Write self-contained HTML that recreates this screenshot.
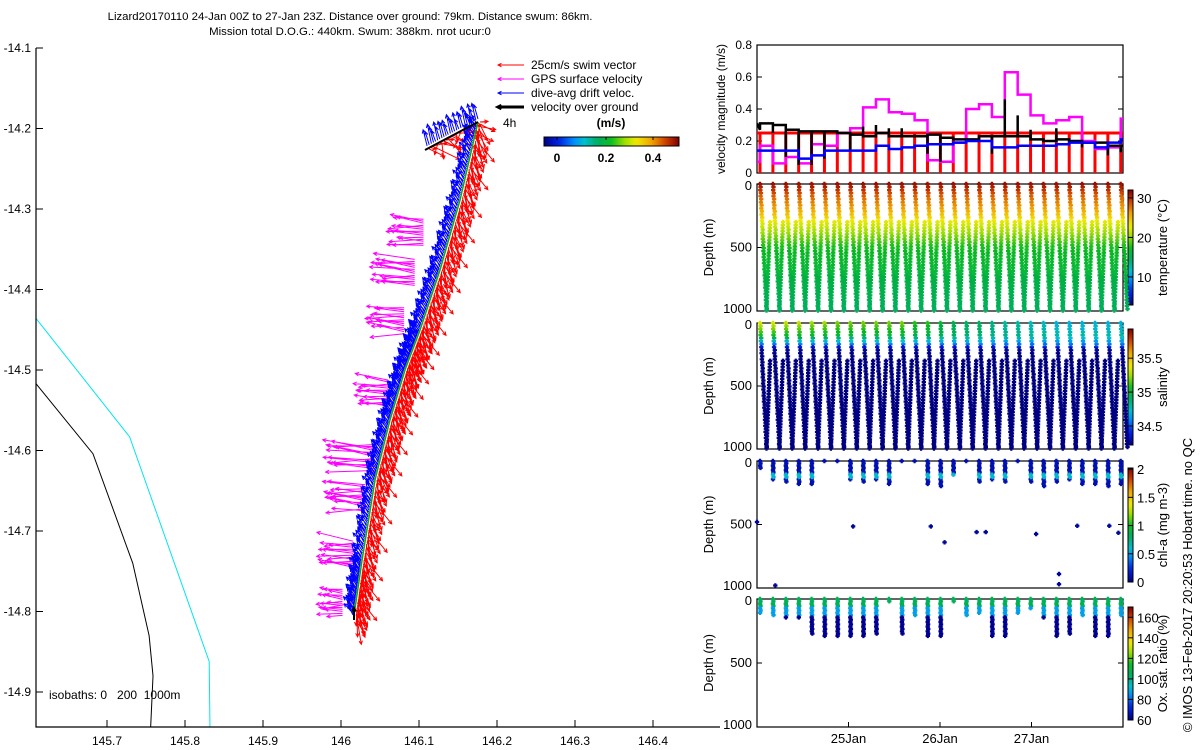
<!DOCTYPE html>
<html><head><meta charset="utf-8"><title>Lizard glider mission chart</title>
<style>
html,body{margin:0;padding:0;background:#fff;}
svg{display:block;font-family:"Liberation Sans",sans-serif;}
text{font-size:12px;fill:#000;}
</style></head>
<body>
<svg id="chart" width="1200" height="750" viewBox="0 0 1200 750" xmlns="http://www.w3.org/2000/svg">
<defs>
<linearGradient id="jetV" x1="0" y1="1" x2="0" y2="0"></linearGradient>
<linearGradient id="jetH" x1="0" y1="0" x2="1" y2="0"></linearGradient>
</defs>
<text x="350" y="20" text-anchor="middle" style="font-size:11.4px">Lizard20170110 24-Jan 00Z to 27-Jan 23Z. Distance over ground: 79km. Distance swum: 86km.</text>
<text x="350" y="35" text-anchor="middle" style="font-size:11.4px">Mission total D.O.G.: 440km. Swum: 388km. nrot ucur:0</text>
<g id="map"></g>
<g id="panels"></g>
<text transform="translate(1192,585) rotate(-90)" text-anchor="middle" style="font-size:13px">© IMOS 13-Feb-2017 20:20:53 Hobart time. no QC</text>
</svg>
<script>
// ---------- data ----------
const mapLonTicks = [145.7,145.8,145.9,146,146.1,146.2,146.3,146.4];
const mapLatTicks = [-14.1,-14.2,-14.3,-14.4,-14.5,-14.6,-14.7,-14.8,-14.9];
const trackLon = [146.0167,146.027,146.0436,146.0628,146.082,146.1013,146.1269,146.1526,146.1756];
const trackLat = [-14.8043,-14.736,-14.6366,-14.5621,-14.5,-14.4503,-14.3758,-14.2888,-14.1919];
const hookLon = [146.1756,146.1077];
const hookLat = [-14.1919,-14.2267];
const iso200Lon = [145.609,145.729,145.831,145.832];
const iso200Lat = [-14.436,-14.583,-14.862,-14.943];
const iso1000Lon = [145.609,145.682,145.733,145.754,145.759,145.756];
const iso1000Lat = [-14.517,-14.604,-14.740,-14.830,-14.880,-14.943];
const gpsClusterLat = [-14.33,-14.38,-14.44,-14.53,-14.61,-14.66,-14.73,-14.79];
const gpsClusterLen = [30,38,32,28,45,36,30,20];

const velTicks = [0,0.2,0.4,0.6,0.8];
const swimSpeed = 0.25;
const dogVel = [0.31,0.30,0.27,0.26,0.26,0.26,0.25,0.24,0.23,0.25,0.23,0.23,0.23,0.24,0.22,0.21,0.21,0.23,0.23,0.23,0.23,0.21,0.20,0.21,0.20,0.19,0.19,0.17,0.17];
const dogSpike = [0.27,0.25,0.10,0.05,0.05,0.09,0.25,0.14,0.29,0.30,0.28,0.28,0.24,0.12,0.07,0.21,0.20,0.20,0.12,0.46,0.36,0.27,0.20,0.28,0.21,0.16,0.18,0.11,0.13];
const driftVel = [0.14,0.14,0.14,0.09,0.11,0.14,0.14,0.14,0.14,0.17,0.15,0.16,0.17,0.18,0.18,0.19,0.20,0.20,0.16,0.16,0.17,0.17,0.17,0.18,0.19,0.19,0.16,0.19,0.21];
const gpsVel = [0.17,0.06,0.10,0.06,0.18,0.17,0.25,0.28,0.41,0.46,0.38,0.37,0.33,0.08,0.07,0.19,0.40,0.43,0.35,0.63,0.49,0.36,0.31,0.33,0.35,0.20,0.15,0.16,0.34];
const dateTicks = [1,2,3];
const dateLabels = ["25Jan","26Jan","27Jan"];
const depthTicks = [0,500,1000];

const tempDepth = [0,100,200,300,400,500,700,1000];
const tempVal = [31,28,26,22.5,20,17.5,16,14.5];
const salDepth = [0,50,100,150,200,250,1000];
const salVal = [35.2,35.1,35.0,34.7,34.3,34.22,34.22];
const salSfcAdj = [0.15,0.15,0.1,0.1,0.05,0.05,0,0,0,0,0,0,-0.1,-0.1,-0.2,-0.25,-0.3,-0.3,-0.35,-0.4,-0.4,-0.45,-0.45,-0.5,-0.5,-0.5,-0.5,-0.5,-0.5];
const chlMaxDepth = [60,160,170,190,180,10,10,160,170,150,190,10,10,190,200,120,10,170,160,170,10,170,200,170,160,190,190,200,190];
const chlIsoT = [0.0,0.2,1.05,1.9,2.05,2.4,2.5,3.05,3.5,3.85,3.95,3.3,3.3];
const chlIsoD = [480,980,515,515,640,560,560,575,510,510,565,890,970];
const oxMaxDepth = [120,130,160,150,280,300,300,300,290,280,20,280,140,300,300,20,140,120,300,300,110,80,150,300,280,130,290,300,130];
const tempRange=[2.9,32], salRange=[34.22,35.93], chlRange=[0,2.02], oxRange=[60,170];

// ---------- helpers ----------
const svg=document.getElementById('chart');
const NS='http://www.w3.org/2000/svg';
function mk(tag,attrs,parent){const e=document.createElementNS(NS,tag);for(const k in attrs)e.setAttribute(k,attrs[k]);(parent||svg).appendChild(e);return e;}
const cmPos=[0,0.1,0.22,0.3,0.4,0.5,0.6,0.68,0.8,0.9,1];
const cmCol=[[0,0,128],[0,32,224],[0,144,255],[0,192,208],[0,176,96],[16,192,32],[160,224,0],[240,240,0],[240,160,0],[208,64,0],[128,0,0]];
function jet(v){v=Math.max(0,Math.min(1,v));let i=1;while(i<cmPos.length-1&&v>cmPos[i])i++;const f=(v-cmPos[i-1])/(cmPos[i]-cmPos[i-1]);const c=cmCol[i-1].map((a,j)=>Math.round(a+(cmCol[i][j]-a)*f));
 // quantize to limit path count
 return `rgb(${c[0]&~7},${c[1]&~7},${c[2]&~7})`;}
['jetV','jetH'].forEach(id=>{const g=document.getElementById(id);for(let i=0;i<=40;i++){mk('stop',{offset:(i/40),'stop-color':jet(i/40)},g);}});

// ---------- map ----------
const map=document.getElementById('map');
const mx=lon=>107+(lon-145.7)/0.1*78;
const my=lat=>48+(-14.1-lat)/0.1*80.5;
function pl(lons,lats,stroke,w,name){const p=mk('polyline',{points:lons.map((l,i)=>mx(l)+','+my(lats[i])).join(' '),fill:'none',stroke:stroke,'stroke-width':w},map);

return p;}
pl(iso200Lon,iso200Lat,'#00e5ee',1,'isobath-200m');
pl(iso1000Lon,iso1000Lat,'#000',1,'isobath-1000m');
const pts=[];
for(let s=0;s<trackLon.length-1;s++){const n=45;for(let j=0;j<n;j++){const f=j/n;pts.push([mx(trackLon[s]+(trackLon[s+1]-trackLon[s])*f),my(trackLat[s]+(trackLat[s+1]-trackLat[s])*f)]);}}
function arrow(g,x,y,dx,dy){const L=Math.hypot(dx,dy)||1,ux=dx/L,uy=dy/L,h=3.5;
return `M${x.toFixed(1)},${y.toFixed(1)}L${(x+dx).toFixed(1)},${(y+dy).toFixed(1)}M${(x+dx-h*ux+h*0.5*uy).toFixed(1)},${(y+dy-h*uy-h*0.5*ux).toFixed(1)}L${(x+dx).toFixed(1)},${(y+dy).toFixed(1)}L${(x+dx-h*ux-h*0.5*uy).toFixed(1)},${(y+dy-h*uy+h*0.5*ux).toFixed(1)}`;}
const jit=[0,9,-6,14,-11,4,18,-3,7,-15,11,-8,2,16,-12,5];
let rd='',bd='',md='';
pts.forEach((p,i)=>{const a=(68+jit[i%16]*1.4)*Math.PI/180,L=22+jit[(i+5)%16]*0.5;rd+=arrow(0,p[0]+2,p[1],Math.cos(a)*L,Math.sin(a)*L);
const b=(235+jit[(i+3)%16]*0.6)*Math.PI/180,bl=12+jit[(i+7)%16]*0.2;bd+=arrow(0,p[0]-1,p[1],Math.cos(b)*bl,Math.sin(b)*bl);});
for(let j=0;j<25;j++){const f=j/25,x=mx(hookLon[0]+(hookLon[1]-hookLon[0])*f),y=my(hookLat[0]+(hookLat[1]-hookLat[0])*f);
bd+=arrow(0,x,y-3,-4,-14-jit[j%16]*0.3);rd+=arrow(0,x+2,y,8+jit[j%16],6+jit[(j+4)%16]*0.6);}
gpsClusterLat.forEach((lat,c)=>{for(let j=0;j<14;j++){const yy=my(lat)+j*2-14;const f=(my(lat)-48)/(615-48);const x=mx(146.1756)-(478-354)*f-14;const L=gpsClusterLen[c]+jit[(j+c)%16]*0.4;const a=(183+jit[(j*3+c)%16]*0.6)*Math.PI/180;md+=arrow(0,x,yy,Math.cos(a)*L,Math.sin(a)*L);}});
md+=arrow(0,352,603,-30,6);
const rP=mk('path',{d:rd,stroke:'#ff0000','stroke-width':1,fill:'none'},map);


const mP=mk('path',{d:md,stroke:'#ff00ff','stroke-width':1,fill:'none'},map);


const bP=mk('path',{d:bd,stroke:'#0000ff','stroke-width':1,fill:'none'},map);


pl(trackLon,trackLat,'#00b000',1.5,'glider-track');
pl(hookLon,hookLat,'#000',2,'velocity-over-ground-line');
const vog=mk('path',{d:arrow(0,mx(trackLon[0]),my(trackLat[0])+5,0,-12),stroke:'#000','stroke-width':2,fill:'none'},map);


const ax=mk('path',{d:'M36,48V727H720',stroke:'#000','stroke-width':1.2,fill:'none'},map);


mapLonTicks.forEach(v=>{const x=mx(v);mk('line',{x1:x,y1:727,x2:x,y2:720,stroke:'#000'},map);const t=mk('text',{x:x,y:745,'text-anchor':'middle'},map);t.textContent=String(v);

});
mapLatTicks.forEach(v=>{const y=my(v);mk('line',{x1:36,y1:y,x2:43,y2:y,stroke:'#000'},map);const t=mk('text',{x:31,y:y+4,'text-anchor':'end'},map);t.textContent=String(v);

});
const iso=mk('text',{x:49,y:699,style:'white-space:pre'},map);iso.textContent='isobaths: 0   200  1000m';


const legItems=[['25cm/s swim vector','#ff0000',1],['GPS surface velocity','#ff00ff',1],['dive-avg drift veloc.','#0000ff',1],['velocity over ground','#000',3]];
legItems.forEach((it,i)=>{const y=65+i*14;const g=mk('g',{},map);


mk('path',{d:arrow(0,524,y,-26,0),stroke:it[1],'stroke-width':it[2],fill:'none'},g);const t=mk('text',{x:531,y:y+4},g);t.textContent=it[0];});
const h4=mk('text',{x:503,y:127},map);h4.textContent='4h';


const cbg=mk('g',{},map);


mk('rect',{x:544,y:137,width:135,height:9,fill:'url(#jetH)',stroke:'#000','stroke-width':1},cbg);
[[0,557],[0.2,606],[0.4,653]].forEach(a=>{mk('line',{x1:a[1],y1:137,x2:a[1],y2:140,stroke:'#000'},cbg);const t=mk('text',{x:a[1],y:162,'text-anchor':'middle','font-weight':'bold'},cbg);t.textContent=String(a[0]);});
const ms=mk('text',{x:611,y:127,'text-anchor':'middle','font-weight':'bold'},cbg);ms.textContent='(m/s)';

// ---------- right panels ----------
const P=document.getElementById('panels');
const X0=757,X1=1123;
const tx=t=>X0+t*91.5;
const nD=29,dT0=0.033,dDT=0.1408;
const dT=k=>dT0+k*dDT;
function panelFrame(y0,y1,name){const g=mk('g',{},P);
mk('rect',{x:X0,y:y0,width:X1-X0,height:y1-y0,fill:'none',stroke:'#000','stroke-width':1.2},g);return g;}
const vy=v=>173-v*160;
const vg=panelFrame(45,173,'velocity-panel');
velTicks.forEach(v=>{mk('line',{x1:X0,y1:vy(v),x2:X0+5,y2:vy(v),stroke:'#000'},vg);mk('line',{x1:X1,y1:vy(v),x2:X1-5,y2:vy(v),stroke:'#000'},vg);const t=mk('text',{x:752,y:vy(v)+4,'text-anchor':'end'},vg);t.textContent=String(v);});
const vl=mk('text',{transform:'translate(725,109) rotate(-90)','text-anchor':'middle'},vg);vl.textContent='velocity magnitude (m/s)';


const clipV=mk('clipPath',{id:'clipV'},svg);mk('rect',{x:X0,y:45,width:X1-X0,height:128},clipV);
const vc=mk('g',{'clip-path':'url(#clipV)'},vg);
let red='M'+X0+','+vy(swimSpeed)+'H'+X1;for(let k=0;k<nD;k++){red+='M'+tx(dT(k))+','+vy(swimSpeed)+'V'+vy(0);}
const redP=mk('path',{d:red,stroke:'#ff0000','stroke-width':3,fill:'none'},vc);


function stepPath(vals,spikes){let d='M'+X0+','+vy(vals[0]);for(let k=0;k<nD;k++){const x=tx(dT(k)),x2=k<nD-1?tx(dT(k+1)):X1;if(spikes){d+='L'+x+','+vy(spikes[k]);}d+='L'+x+','+vy(vals[k])+'L'+x2+','+vy(vals[k]);}return d;}
const mgP=mk('path',{d:'M'+X0+','+vy(0.07)+'L'+tx(dT(0))+','+vy(0.07)+stepPath(gpsVel).replace(/^M[^L]*/,''),stroke:'#ff00ff','stroke-width':2.5,fill:'none'},vc);


const bkP=mk('path',{d:stepPath(dogVel,dogSpike),stroke:'#000','stroke-width':2.5,fill:'none'},vc);


const blP=mk('path',{d:stepPath(driftVel),stroke:'#0000ff','stroke-width':2.5,fill:'none'},vc);



function interp(xs,ys,x){if(x<=xs[0])return ys[0];for(let i=1;i<xs.length;i++){if(x<=xs[i]){const f=(x-xs[i-1])/(xs[i]-xs[i-1]);return ys[i-1]+f*(ys[i]-ys[i-1]);}}return ys[ys.length-1];}
function scatterPanel(y0,y1,name,cbTop,cbBot,range,cbTicks,label,pointsFn,last){
 const g=panelFrame(y0,y1,name);const dy=d=>y0+d/1000*(y1-y0);
 depthTicks.forEach(d=>{mk('line',{x1:X0,y1:dy(d),x2:X0+5,y2:dy(d),stroke:'#000'},g);mk('line',{x1:X1,y1:dy(d),x2:X1-5,y2:dy(d),stroke:'#000'},g);const t=mk('text',{x:752,y:dy(d)+(d==0?6:d==1000?2:4),'text-anchor':'end',style:'font-size:13px'},g);t.textContent=String(d);});
 if(last){dateTicks.forEach((t,i)=>{mk('line',{x1:tx(t),y1:y1,x2:tx(t),y2:y1-5,stroke:'#000'},g);const tt=mk('text',{x:tx(t),y:y1+16,'text-anchor':'middle',style:'font-size:13px'},g);tt.textContent=dateLabels[i];
 
 });}
 const dl=mk('text',{transform:`translate(713,${(y0+y1)/2}) rotate(-90)`,'text-anchor':'middle',style:'font-size:13px'},g);dl.textContent='Depth (m)';
 
 
 const cb=mk('g',{},g);
 
 
 mk('rect',{x:1128,y:cbTop,width:5,height:cbBot-cbTop,fill:'url(#jetV)',stroke:'#000','stroke-width':1},cb);
 const cy=v=>cbBot-(v-range[0])/(range[1]-range[0])*(cbBot-cbTop);
 cbTicks.forEach(v=>{mk('line',{x1:1133,y1:cy(v),x2:1128,y2:cy(v),stroke:'#000'},cb);const t=mk('text',{x:1137,y:cy(v)+5,style:'font-size:13px'},cb);t.textContent=String(v);});
 const cl=mk('text',{transform:`translate(1167,${(cbTop+cbBot)/2}) rotate(-90)`,'text-anchor':'middle',style:'font-size:13px'},cb);cl.textContent=label;
 const pg=mk('g',{},g);
 
 
 const byCol={};
 pointsFn((t,d,v)=>{const x=tx(t),y=dy(d);const c=jet((v-range[0])/(range[1]-range[0]));(byCol[c]=byCol[c]||[]).push(`M${(x-2.2).toFixed(1)},${y.toFixed(1)}h4.4M${x.toFixed(1)},${(y-2.2).toFixed(1)}v4.4`);});
 for(const c in byCol){mk('path',{d:byCol[c].join(''),stroke:c,'stroke-width':2.2,fill:'none'},pg);}
}
function zigzag(cb,maxD,step){for(let k=0;k<nD;k++){const ts=dT(k),tb=ts+dDT*0.5,te=ts+dDT*0.78;const md=maxD?maxD[k]:1000;
 for(let d=0;d<=md;d+=step){cb(ts+(tb-ts)*d/1000*(maxD?0.15:1)+0.005*((d/step)%2),d,k);}
 if(!maxD&&tx(te)<X1){for(let d=300;d<=1000;d+=step){cb(te-(te-tb)*(d-300)/700,d,k);}}}}
scatterPanel(184,311,'temperature-panel',190,305,tempRange,[10,20,30],'temperature (°C)',add=>{zigzag((t,d)=>add(t,d,interp(tempDepth,tempVal,d)),null,24);});
scatterPanel(323,449,'salinity-panel',329,445,salRange,[34.5,35,35.5],'salinity',add=>{zigzag((t,d,k)=>add(t,d,interp(salDepth,salVal,d)+(d<170?salSfcAdj[k]*(1-d/170):0)),null,24);});
scatterPanel(461,588,'chlorophyll-panel',468,582,chlRange,[0,0.5,1,1.5,2],'chl-a (mg m-3)',add=>{zigzag((t,d)=>add(t,d,(d>90&&d<130)?0.6:0.1),chlMaxDepth,18);chlIsoT.forEach((t,i)=>add(t,chlIsoD[i],0.05));});
scatterPanel(599,727,'oxygen-panel',607,720,oxRange,[60,80,100,120,140,160],'Ox. sat. ratio (%)',add=>{zigzag((t,d)=>add(t,d,d<60?105:d<140?88:62),oxMaxDepth,18);},true);
</script>
</body></html>
